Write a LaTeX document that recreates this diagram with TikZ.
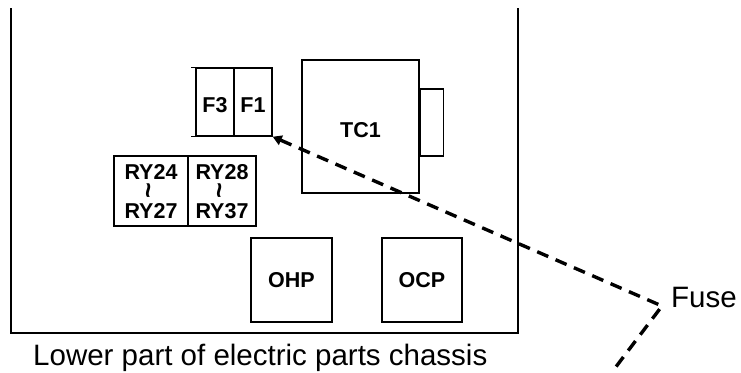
\documentclass[tikz,border=0pt]{standalone}
\usepackage{fontspec}
\setmainfont{Liberation Sans}
\usetikzlibrary{arrows.meta}
\begin{document}
\begin{tikzpicture}[x=1pt,y=-1pt,
  part/.style={draw,line width=1.4pt,rectangle,inner sep=0pt},
  plbl/.style={font=\fontsize{21.5}{21.5}\selectfont\bfseries,inner sep=0pt},
  wave/.style={font=\fontsize{27}{27}\selectfont\bfseries,inner sep=0pt,rotate=90},
  lead/.style={line width=3.4pt,dash pattern=on 12pt off 8pt},
  big/.style={font=\fontsize{29.5}{29.5}\selectfont,inner sep=0pt}]
\useasboundingbox (0,0) rectangle (741,372);
% chassis
\coordinate (ctl) at (11,8);
\coordinate (cbl) at (11,333);
\coordinate (cbr) at (518,333);
\coordinate (ctr) at (518,8);
\draw[line width=1.4pt] (ctl) -- (cbl) -- (cbr) -- (ctr);
% fuses
\node[part,minimum width=38pt,minimum height=68pt] (f3) at (215,102) {};
\node[part,minimum width=38pt,minimum height=68pt] (f1) at (253,102) {};
\draw[line width=1.4pt] ([xshift=-4pt]f3.north west) -- (f1.north east);
\draw[line width=1.4pt] ([xshift=-4pt]f3.south west) -- (f1.south east);
\node[plbl] at ([yshift=-3pt]f3.center) {F3};
\node[plbl] at ([yshift=-3pt]f1.center) {F1};
% relays
\node[part,minimum width=74pt,minimum height=70pt] (ryA) at (151,191) {};
\node[part,minimum width=68pt,minimum height=70pt] (ryB) at (222,191) {};
\node[plbl,anchor=base] at ([yshift=12pt]ryA.center) {RY24};
\node[wave] at ([xshift=1pt]ryA.center) {\textasciitilde};
\node[plbl,anchor=base] at ([yshift=-27pt]ryA.center) {RY27};
\node[plbl,anchor=base] at ([yshift=12pt]ryB.center) {RY28};
\node[wave] at ([xshift=1pt]ryB.center) {\textasciitilde};
\node[plbl,anchor=base] at ([yshift=-27pt]ryB.center) {RY37};
% transformer
\node[part,minimum width=117pt,minimum height=133pt] (tc1) at (360.5,126.5) {};
\node[part,minimum width=23pt,minimum height=67pt,anchor=west] (tab) at ([yshift=4pt]tc1.east) {};
\node[plbl] at ([yshift=-4pt]tc1.center) {TC1};
% protectors
\node[part,minimum width=81pt,minimum height=84pt] (ohp) at (291.5,280) {};
\node[part,minimum width=80pt,minimum height=84pt] (ocp) at (422,280) {};
\node[plbl] at (ohp.center) {OHP};
\node[plbl] at (ocp.center) {OCP};
% labels
\node[big,anchor=base west] (fuse) at (671,307) {Fuse};
\node[big,anchor=base west] (chl) at (33,365) {Lower part of electric parts chassis};
% leader
\coordinate (j) at (662,306);
\coordinate (e) at (612,372);
\draw[lead,{Triangle[length=9pt,width=10pt]}-] (f1.south east) -- (j) -- (e);
\end{tikzpicture}
\end{document}
